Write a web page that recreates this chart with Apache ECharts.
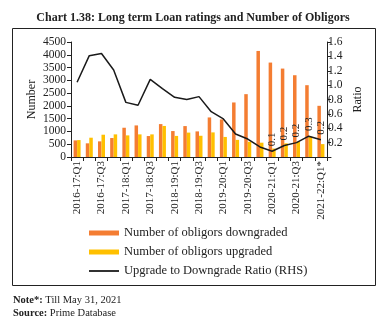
<!DOCTYPE html>
<html>
<head>
<meta charset="utf-8">
<script src="https://cdn.jsdelivr.net/npm/echarts@6/dist/echarts.min.js"></script>
<style>
html,body{margin:0;padding:0;background:#fff;}
#c{width:386px;height:326px;}
</style>
</head>
<body>
<div id="c"></div>
<script>
var categories = [
  '2016-17:Q1','2016-17:Q2','2016-17:Q3','2016-17:Q4',
  '2017-18:Q1','2017-18:Q2','2017-18:Q3','2017-18:Q4',
  '2018-19:Q1','2018-19:Q2','2018-19:Q3','2018-19:Q4',
  '2019-20:Q1','2019-20:Q2','2019-20:Q3','2019-20:Q4',
  '2020-21:Q1','2020-21:Q2','2020-21:Q3','2020-21:Q4',
  '2021-22:Q1*'
];
var downgraded = [650, 535, 612, 742, 1145, 1236, 820, 1288, 1015, 1210, 1002, 1548, 1470, 2134, 2459, 4150, 3695, 3460, 3200, 2810, 2003];
var upgraded   = [662, 755, 872, 885, 846, 885, 885, 1215, 825, 955, 831, 963, 785, 670, 595, 560, 330, 534, 600, 800, 505];
var ratio      = [1.04, 1.41, 1.44, 1.21, 0.76, 0.72, 1.08, 0.95, 0.83, 0.80, 0.84, 0.63, 0.53, 0.32, 0.25, 0.14, 0.08, 0.16, 0.20, 0.29, 0.24];
var ratioLabelFrom = 16;
var leftTicks = {min: 0, max: 4500, step: 500};
var rightTicks = {min: 0, max: 1.6, step: 0.2};

var serif = '"Liberation Serif", "DejaVu Serif", serif';
var chart = echarts.init(document.getElementById('c'), null, {renderer: 'canvas'});
chart.setOption({
  animation: false,
  backgroundColor: '#fff',
  textStyle: {fontFamily: serif, color: '#222'},
  title: {
    text: 'Chart 1.38: Long term Loan ratings and Number of Obligors',
    left: 'center', top: 7,
    textStyle: {fontFamily: serif, fontWeight: 'bold', fontSize: 12, color: '#222'}
  },
  grid: {left: 71, right: 59, top: 42, bottom: 169, containLabel: false},
  legend: {
    orient: 'vertical', left: 89, top: 226, padding: 0,
    itemWidth: 30, itemHeight: 5, itemGap: 5,
    textStyle: {fontFamily: serif, fontSize: 12.5, color: '#222', lineHeight: 14},
    data: [
      {name: 'Number of obligors downgraded', icon: 'rect'},
      {name: 'Number of obligors upgraded', icon: 'rect'},
      {name: 'Upgrade to Downgrade Ratio (RHS)', icon: 'path://M0,0 M0,1.6 L30,1.6 L30,3.4 L0,3.4 Z M30,5'}
    ]
  },
  xAxis: {
    type: 'category', data: categories,
    axisLine: {lineStyle: {color: '#222', width: 1}},
    axisTick: {show: true, interval: 0, length: 4, lineStyle: {color: '#222'}},
    axisLabel: {interval: 1, rotate: 90, fontFamily: serif, fontSize: 11, color: '#222', margin: 4}
  },
  yAxis: [
    {
      type: 'value', min: leftTicks.min, max: leftTicks.max, interval: leftTicks.step,
      name: 'Number', nameLocation: 'middle', nameGap: 33, nameRotate: 90, nameMoveOverlap: false,
      nameTextStyle: {fontFamily: serif, fontSize: 12, color: '#222'},
      axisLine: {show: true, lineStyle: {color: '#222'}},
      axisTick: {show: true, length: 4, lineStyle: {color: '#222'}},
      axisLabel: {fontFamily: serif, fontSize: 11.5, color: '#222', margin: 5,
        formatter: function (v) { return String(v); }},
      splitLine: {show: false}
    },
    {
      type: 'value', min: rightTicks.min, max: rightTicks.max, interval: rightTicks.step,
      name: 'Ratio', nameLocation: 'middle', nameGap: 25, nameRotate: 90, nameMoveOverlap: false,
      nameTextStyle: {fontFamily: serif, fontSize: 12, color: '#222'},
      axisLine: {show: true, lineStyle: {color: '#222'}},
      axisTick: {show: true, length: 4, lineStyle: {color: '#222'}},
      axisLabel: {fontFamily: serif, fontSize: 11.5, color: '#222', margin: 1,
        formatter: function (v) { return v === 0 ? '-' : v.toFixed(1); }},
      splitLine: {show: false}
    }
  ],
  series: [
    {
      name: 'Number of obligors downgraded', type: 'bar', data: downgraded,
      barWidth: 3.5, barGap: '0%', itemStyle: {color: '#F47D32'}
    },
    {
      name: 'Number of obligors upgraded', type: 'bar', data: upgraded,
      barWidth: 3.5, itemStyle: {color: '#FFC000'}
    },
    {
      name: 'Upgrade to Downgrade Ratio (RHS)', type: 'line', yAxisIndex: 1,
      data: ratio, symbol: 'circle', symbolSize: 0.1, showSymbol: true,
      lineStyle: {color: '#1a1a1a', width: 1.5},
      itemStyle: {color: '#1a1a1a'},
      label: {
        show: true, position: 'top', rotate: 90, align: 'left', verticalAlign: 'middle',
        distance: 5, fontFamily: serif, fontSize: 11, color: '#222',
        formatter: function (p) { return p.dataIndex >= ratioLabelFrom ? p.value.toFixed(1) : ''; }
      }
    }
  ],
  graphic: [
    {type: 'rect', shape: {x: 12.5, y: 28.5, width: 363, height: 257},
     style: {fill: null, stroke: '#222', lineWidth: 1}, silent: true, z: 100},
    {type: 'text', left: 13, top: 295, style: {
      text: '{b|Note*:} Till May 31, 2021', font: '10.5px ' + serif, fill: '#222',
      rich: {b: {fontWeight: 'bold', fontFamily: serif, fontSize: 10.5, fill: '#222'}}}},
    {type: 'text', left: 13, top: 308, style: {
      text: '{b|Source:} Prime Database', font: '10.5px ' + serif, fill: '#222',
      rich: {b: {fontWeight: 'bold', fontFamily: serif, fontSize: 10.5, fill: '#222'}}}}
  ]
});
</script>
</body>
</html>
